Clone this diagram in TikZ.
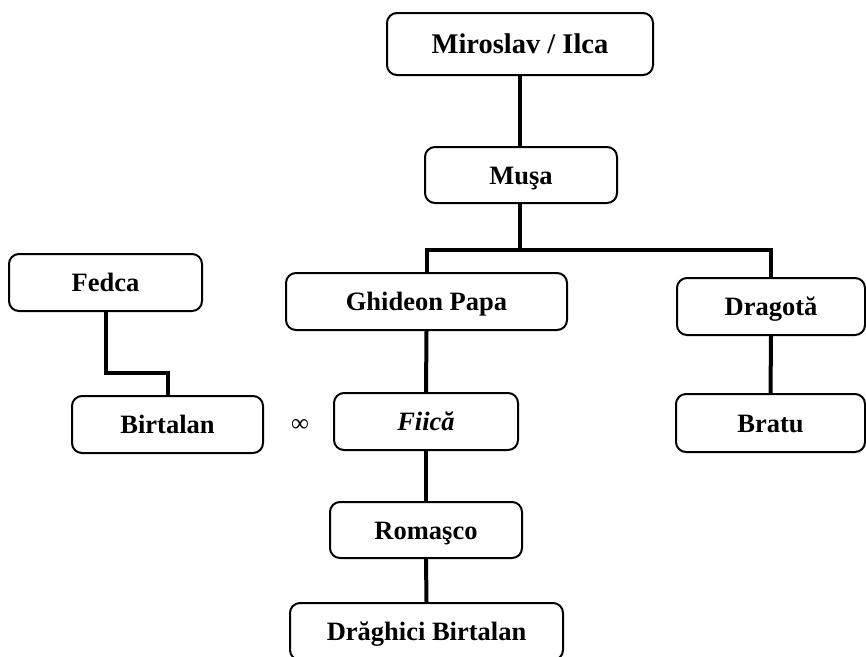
\documentclass[tikz,border=0pt]{standalone}
\usepackage{fontspec}
\setmainfont{Liberation Serif}
\begin{document}
\begin{tikzpicture}[x=1pt,y=-1pt,
  famBox/.style={draw=black, line width=2pt, rounded corners=10pt, fill=white,
    inner sep=0pt, text height=18pt, text depth=0pt,
    font=\fontsize{26.5}{30}\selectfont\bfseries},
  conn/.style={draw=black, line width=4pt}]
\useasboundingbox (0,0) rectangle (866,656);
\fill[white] (0,0) rectangle (866,656);
\node[famBox, minimum width=266pt, minimum height=62pt, text height=19.5pt, font=\fontsize{28.5}{32}\selectfont\bfseries] (mi) at (520,44) {Miroslav / Ilca};
\node[famBox, minimum width=192pt, minimum height=56pt] (mu) at (521,175) {Muşa};
\node[famBox, minimum width=281pt, minimum height=57pt] (gh) at (426.5,301.5) {Ghideon Papa};
\node[famBox, minimum width=188pt, minimum height=57pt] (dr) at (771,306.5) {Dragotă};
\node[famBox, minimum width=193pt, minimum height=57pt] (fe) at (105.5,282.5) {Fedca};
\node[famBox, minimum width=191pt, minimum height=57pt] (bi) at (167.5,424.5) {Birtalan};
\node[famBox, minimum width=184pt, minimum height=57pt] (fi) at (426,421.5) {\itshape Fiică};
\node[famBox, minimum width=189pt, minimum height=58pt] (br) at (770.5,423) {Bratu};
\node[famBox, minimum width=192pt, minimum height=56pt] (ro) at (426,530) {Romaşco};
\node[famBox, minimum width=273pt, minimum height=57pt] (dg) at (426.5,631.5) {Drăghici Birtalan};
\node[inner sep=0pt, font=\fontsize{25}{27}\selectfont] (inf) at (300,425) {∞};
\coordinate (j) at (520,250);
\coordinate (fk) at (105.5,373);
\draw[conn] (mi.south -| 520,0) -- (mu.north -| 520,0);
\draw[conn] (mu.south -| 520,0) -- (j);
\draw[conn] (gh.north) |- (j) -| (dr.north);
\draw[conn] (gh.south) -- (fi.north);
\draw[conn] (fi.south) -- (ro.north);
\draw[conn] (ro.south) -- (dg.north);
\draw[conn] (dr.south) -- (br.north);
\draw[conn] (fe.south) -- (fk) -| (bi.north);
\end{tikzpicture}
\end{document}
